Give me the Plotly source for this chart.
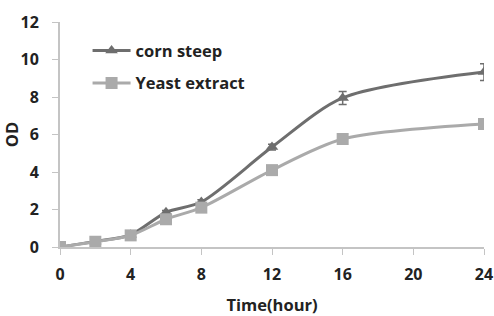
import plotly.graph_objects as go

time_h = [0, 2, 4, 6, 8, 12, 16, 24]
corn_steep = [0.0, 0.3, 0.65, 1.85, 2.4, 5.33, 7.95, 9.33]
corn_err = [0.05, 0.08, 0.08, 0.1, 0.12, 0.15, 0.35, 0.45]
yeast_extract = [0.0, 0.28, 0.62, 1.48, 2.1, 4.1, 5.76, 6.56]
yeast_err = [0.05, 0.05, 0.05, 0.08, 0.1, 0.1, 0.1, 0.12]
x_ticks = [0, 4, 8, 12, 16, 20, 24]
y_ticks = [0, 2, 4, 6, 8, 10, 12]

dark = "#6e6e6e"
light = "#aaaaaa"
font_family = "Open Sans"

fig = go.Figure()
fig.add_trace(go.Scatter(
    x=time_h, y=corn_steep, name="<b>corn steep</b>", mode="lines+markers",
    legendgroup="a",
    line=dict(color=dark, width=3, shape="spline", smoothing=0.8),
    marker=dict(symbol="triangle-up", size=11, color=dark),
    error_y=dict(type="data", array=corn_err, color=dark, thickness=1.5, width=4),
))
fig.add_trace(go.Scatter(
    x=time_h, y=yeast_extract, name="<b>Yeast extract</b>", mode="lines+markers",
    legendgroup="b",
    line=dict(color=light, width=3, shape="spline", smoothing=0.8),
    marker=dict(symbol="square", size=12, color=light),
    error_y=dict(type="data", array=yeast_err, color=light, thickness=1.5, width=4),
))

fig.update_layout(
    width=494, height=316,
    margin=dict(l=60, r=10, t=22, b=69),
    paper_bgcolor="white", plot_bgcolor="white",
    font=dict(family=font_family, size=16, color="#222222"),
    showlegend=True,
    legend=dict(
        x=0.065, y=0.95, xanchor="left", yanchor="top",
        bgcolor="rgba(0,0,0,0)", font=dict(size=16.5, color="#222222", family=font_family),
        itemwidth=38, tracegroupgap=8, traceorder="grouped",
    ),
    xaxis=dict(
        range=[0, 24], tickvals=x_ticks, ticktext=[f"<b>{v}</b>" for v in x_ticks],
        showgrid=False, zeroline=False, showline=True, linecolor="#c4c4c4", linewidth=2,
        ticks="outside", ticklen=6, tickcolor="#c4c4c4", tickwidth=1,
        title=dict(text="<b>Time(hour)</b>", font=dict(size=16.5), standoff=16),
        tickfont=dict(size=16), automargin=False, ticklabelstandoff=6,
    ),
    yaxis=dict(
        range=[0, 12], tickvals=y_ticks, ticktext=[f"<b>{v}</b>" for v in y_ticks],
        showgrid=False, zeroline=False, showline=True, linecolor="#c4c4c4", linewidth=2,
        ticks="outside", ticklen=6, tickcolor="#c4c4c4", tickwidth=1,
        title=dict(text="<b>OD</b>", font=dict(size=16.5), standoff=2),
        tickfont=dict(size=16), automargin=False, ticklabelstandoff=10,
    ),
)

fig.write_html(
    "out.html",
    config={"displayModeBar": False},
    post_script="document.body.style.margin='0';document.body.style.padding='0';document.body.style.overflow='hidden';",
)
